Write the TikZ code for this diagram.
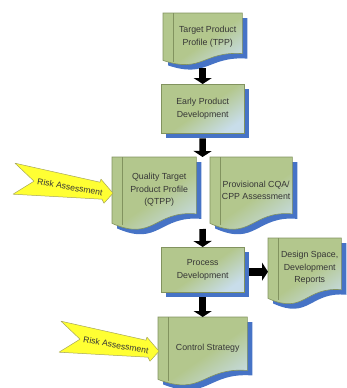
\documentclass[tikz,border=0pt]{standalone}
\usepackage{fontspec}
\setmainfont{Liberation Sans}
\usetikzlibrary{calc,positioning,arrows.meta,backgrounds}

\definecolor{docgreen}{HTML}{B3C78D}
\definecolor{docblue}{HTML}{C8DDEA}
\definecolor{shadowblue}{HTML}{4673C6}
\definecolor{docline}{HTML}{82935F}
\definecolor{riskyellow}{HTML}{FFFF33}
\definecolor{riskline}{HTML}{A6A65A}
\definecolor{txtgray}{HTML}{363636}

% outline of a document shape round the text node #1 (10pt strip on the left)
\newcommand{\docoutline}[1]{([xshift=-10pt]#1.north west) -- (#1.north east) -- ($(#1.north east)!0.857!(#1.south east)$) .. controls ($(#1.north)!0.80!(#1.south)+(-5,0)$) and ($(#1.north)!1.28!(#1.south)+(-5,0)$) .. ([xshift=-10pt]#1.south west) -- cycle}

\tikzset{
	stage/.style={inner sep=0pt, align=center, anchor=north west, text=txtgray, font=\fontsize{8.8}{12.5}\selectfont},
	docfill/.style={shade, draw=docline, line width=0.6pt, top color=docgreen, bottom color=docblue, middle color=docgreen, shading angle=35},
	flow/.style={line width=6.5pt, -{Triangle[width=18pt,length=6pt]}},
	riskshape/.style={fill=riskyellow, draw=riskline, line width=0.5pt, line join=round},
	risktext/.style={rotate=-10, text=txtgray, font=\fontsize{8.6}{10}\selectfont, inner sep=0pt}
}

\begin{document}
\begin{tikzpicture}[x=1pt,y=-1pt]
		\useasboundingbox (0,0) rectangle (346,388);

		\node[stage, minimum width=69pt, minimum height=47pt] (tpp) at (173,13) {Target Product\\Profile (TPP)};
		\node[stage, minimum width=83pt, minimum height=49pt] (early) at (161,84) {Early Product\\Development};
		\node[stage, minimum width=74pt, minimum height=66pt] (qtpp) at (122,157) {Quality Target\\Product Profile\\(QTPP)};
		\node[stage, minimum width=72pt, minimum height=66pt] (prov) at (220,157) {Provisional CQA/\\CPP Assessment};
		\node[stage, minimum width=83pt, minimum height=45pt] (proc) at (161,247) {Process\\Development};
		\node[stage, minimum width=63pt, minimum height=60pt] (dspace) at (278,238) {Design Space,\\Development\\Reports};
		\node[stage, minimum width=79pt, minimum height=62pt] (ctrl) at (168,317) {Control Strategy};

		\coordinate (split) at (202.5,157);
		\coordinate (join) at (202.5,229);

		\begin{scope}[on background layer]
			\foreach \d in {tpp,qtpp,prov,dspace,ctrl}{
				\fill[shadowblue, transform canvas={shift={(5pt,-5pt)}}] \docoutline{\d};
				\path[docfill] \docoutline{\d};
				\draw[docline, line width=0.6pt] (\d.north west) -- ([yshift=-2pt]\d.south west);
			}
			\foreach \b in {early,proc}{
				\fill[shadowblue] ([shift={(5,5)}]\b.north west) rectangle ([shift={(5,5)}]\b.south east);
				\path[docfill] (\b.north west) rectangle (\b.south east);
			}
		\end{scope}

		\draw[flow] ($(early.north |- tpp.south)+(0,8)$) -- (early.north);
		\draw[flow] ($(early.south)+(0,5)$) -- (split);
		\draw[flow] (join) -- (proc.north);
		\draw[flow, line width=8pt] ($(proc.east)+(5,2)$) -- ($(proc.east -| dspace.west)+(-10,2)$);
		\draw[flow] ($(proc.south)+(0,5)$) -- (proc.south |- ctrl.north);

		\foreach \t/\r in {qtpp/riskA,ctrl/riskB}{
			\coordinate (\r-tip) at ($(\t.west)+(-9,3)$);
			\draw[riskshape] (\r-tip) -- +(-12,-14) -- +(-13,-11) -- +(-98,-30) -- +(-79,-12) -- +(-100,1) -- +(-11,6) -- +(-9,10) -- cycle;
			\node[risktext] (\r) at ($(\r-tip)+(-43,-6)$) {Risk Assessment};
		}
	\end{tikzpicture}
\end{document}
